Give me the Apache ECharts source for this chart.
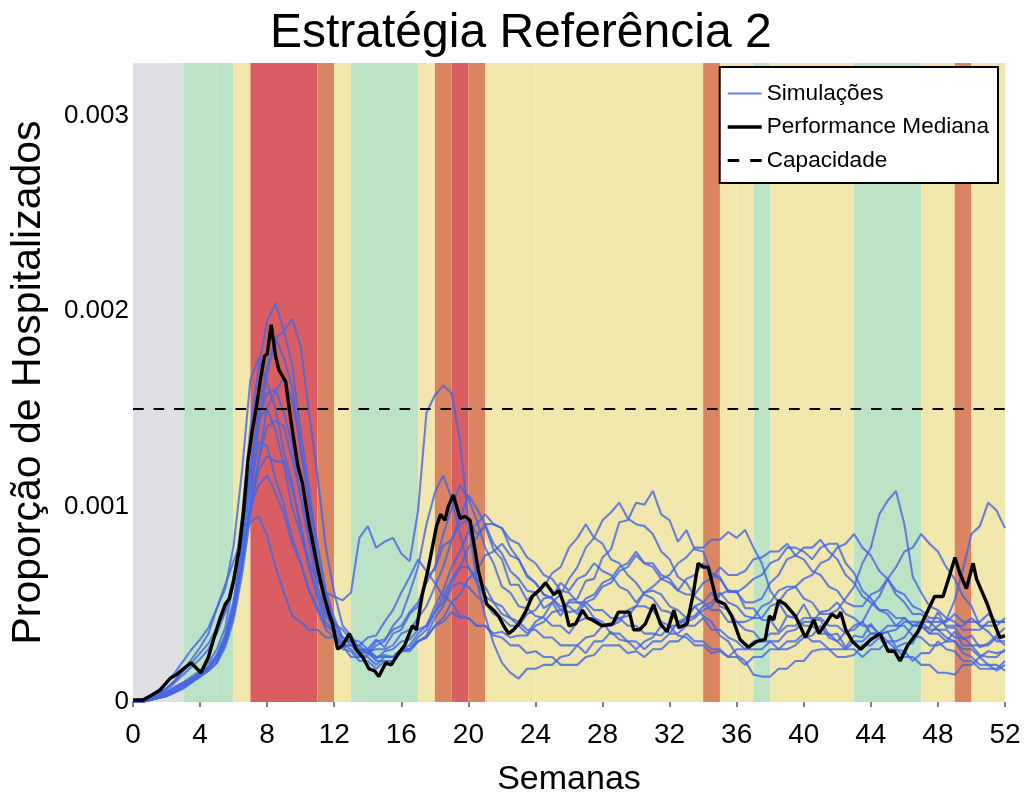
<!DOCTYPE html>
<html>
<head>
<meta charset="utf-8">
<script src="https://cdn.jsdelivr.net/npm/echarts@6/dist/echarts.min.js"></script>
<style>
html,body{margin:0;padding:0;background:#fff;}
#chart{width:1030px;height:802px;}
</style>
</head>
<body>
<div id="chart"></div>
<script>
// Values in units of 1e-5 (proportion of hospitalized)
const titleText = 'Estratégia Referência 2';
const xTickLabels = ['0','4','8','12','16','20','24','28','32','36','40','44','48','52'];
const yTickLabels = ['0','0.001','0.002','0.003'];
const capacity = 150;
const simStep = 0.5; // weeks between simulation samples

// policy bands: [startWeek, endWeek, level]
const bands = [
  [0,3,'none'],[3,5,'green'],[5,6,'green'],[6,7,'yellow'],[7,11,'red'],[11,12,'orange'],
  [12,13,'yellow'],[13,17,'green'],[17,18,'yellow'],[18,19,'orange'],[19,20,'red'],[20,21,'orange'],
  [21,24,'yellow'],[24,30,'yellow'],[30,34,'yellow'],[34,35,'orange'],[35,36,'yellow'],[36,37,'yellow'],
  [37,38,'green'],[38,42,'yellow'],[42,43,'yellow'],[43,47,'green'],[47,49,'yellow'],[49,50,'orange'],[50,52,'yellow']
];

const sim1 = [0,0,1,3,5,8,10,13,16,20, 27,38,62,95,140,172,195,204,190,172, 138,110,74,56,40,37,32,31,27,32,
  28,35,37,45,49,64,68,80,83,91, 93,86,90,78,73,60,60,52,56,48, 51,44,52,53,62,63,74,78,92,93,
  102,101,108,96,93,82,88,78,77,66, 64,56,57,48,48,42,42,36,44,43, 50,42,42,34,35,28,34,33,40,34,
  36,28,30,30,38,38,46,38,38,32, 34,28,30,34,38];
const sim2 = [0,0,1,2,4,7,9,12,14,17, 22,30,45,70,105,140,168,186,190,196, 182,148,116,79,56,39,34,27,26,21,
  21,21,26,26,31,34,43,49,59,61, 59,54,51,45,43,39,39,35,41,44, 51,55,63,69,79,84,93,97,102,94,
  91,90,86,77,73,64,61,54,51,47, 47,41,41,37,36,31,31,27,27,29, 33,34,39,33,31,27,27,23,27,27,
  31,27,26,21,25,25,31,27,26,21, 21,17,17,17,21];
const sim3 = [0,1,2,4,7,11,16,22,28,35, 48,58,80,118,165,176,163,150,128,112, 88,72,62,56,54,52,56,84,90,79,
  82,84,76,72,98,148,157,162,158,134, 92,62,44,30,20,15,12,17,17,19, 19,23,24,29,25,31,31,36,32,31,
  27,31,33,39,35,41,43,49,44,41, 34,31,24,21,14,13,13,17,17,21, 21,26,27,27,23,23,24,29,29,33,
  27,27,23,23,19,19,15,15,14,19, 19,23,19,19,16];
const sim4 = [0,0,1,2,3,5,8,11,14,18, 24,34,52,80,115,150,172,186,176,161, 128,101,68,49,34,29,23,23,24,29,
  31,39,44,56,69,91,107,116,104,86, 69,61,54,51,45,43,39,45,47,53, 54,61,57,63,65,71,67,65,59,57,
  51,56,57,55,49,47,43,49,51,56, 49,47,41,41,43,49,51,57,59,59, 53,51,45,45,47,53,59,71,79,96,
  103,108,91,64,56,49,47,43,41,37, 37,37,41,41,41];
const sim5 = [0,0,1,3,6,10,14,18,22,27, 35,46,64,88,120,146,158,160,148,131, 104,82,59,46,37,33,29,29,25,31,
  32,37,39,46,51,61,69,86,99,111, 104,93,79,71,59,56,49,48,44,43, 39,39,35,41,43,43,39,39,41,47,
  49,56,59,63,65,71,74,79,79,83, 83,87,84,88,79,71,57,51,44,43, 39,39,35,35,31,36,37,41,35,35,
  31,31,33,39,41,41,37,37,33,33, 29,29,29,33,29];
const sim6 = [0,1,2,4,7,11,16,20,25,30, 38,46,60,88,120,145,150,139,121,99, 86,69,56,44,39,31,31,26,26,27,
  27,29,35,37,43,49,59,69,83,94, 106,99,91,81,76,67,63,57,56,59, 66,69,79,84,91,84,81,73,71,65,
  61,55,53,47,46,41,41,43,47,49, 55,57,56,59,63,65,71,73,79,79, 77,73,79,81,81,71,66,57,53,47,
  45,39,39,34,33,29,29,31,36,29, 29,24,23,23,27];
const sim7 = [0,0,1,2,4,6,8,11,14,17, 22,32,50,80,110,133,131,114,101,84, 71,57,49,39,36,29,27,23,23,19,
  23,23,27,27,31,33,39,41,46,43, 43,39,39,35,36,33,34,34,39,41, 46,47,51,51,49,43,41,35,35,31,
  31,27,31,31,35,35,39,39,43,37, 37,33,31,27,27,27,31,31,36,37, 41,41,46,47,51,45,43,39,39,35,
  36,37,41,41,41,37,37,33,31,25, 23,19,19,16,19];
const sim8 = [0,0,1,2,3,5,7,10,13,16, 20,30,45,70,100,119,126,123,123,109, 91,69,53,41,36,29,29,25,25,22,
  26,27,31,32,37,39,46,51,61,69, 79,84,91,91,89,83,81,74,71,65, 63,57,56,51,51,47,47,43,43,39,
  39,35,35,34,39,39,43,44,49,51, 56,51,49,44,43,43,49,51,57,59, 63,65,71,73,79,81,86,79,75,67,
  63,55,51,45,45,41,41,41,45,41, 41,41,45,41,41];
const sim9 = [0,1,3,6,10,15,21,27,32,38, 48,60,72,84,92,95,85,69,56,44, 41,37,37,33,33,29,29,29,33,34,
  41,47,56,64,73,67,61,54,51,44, 43,39,39,34,33,29,29,25,26,23, 23,19,19,19,23,24,29,29,29,25,
  26,23,27,27,31,31,35,31,31,27, 27,23,23,19,23,23,27,27,31,31, 35,31,31,27,27,27,31,31,35,35,
  39,39,43,39,39,35,39,42,52,68, 86,90,102,98,89];
const sim10 = [0,0,1,2,4,6,9,12,15,18, 23,33,48,72,100,124,141,144,141,124, 106,84,66,49,41,33,31,27,27,23,
  23,23,27,29,35,39,49,57,69,77, 87,91,96,91,89,79,73,64,61,55, 53,47,46,47,53,55,61,63,69,71,
  77,71,69,63,61,57,63,65,71,65, 63,57,56,51,51,53,61,65,73,75, 79,79,83,77,73,65,61,54,51,47,
  47,43,43,39,39,35,35,31,31,27, 27,23,26,25,26];
const sim11 = [0,0,1,2,3,5,7,10,13,16, 20,28,42,65,95,124,151,159,166,154, 131,104,81,57,43,33,31,26,26,23,
  24,23,27,27,31,33,39,43,51,55, 63,67,75,77,81,75,73,65,61,55, 53,49,49,45,51,53,59,61,67,69,
  75,71,71,65,63,57,55,55,61,63, 69,65,65,67,73,74,77,77,81,75, 73,67,65,59,57,51,49,49,55,57,
  63,57,55,49,47,43,43,39,39,39, 43,39,39,39,43];
const sim12 = [0,1,2,3,5,7,10,12,15,18, 24,34,50,75,100,111,116,107,96,81, 71,57,47,37,33,27,26,21,21,17,
  21,21,26,27,33,37,46,54,63,69, 69,63,59,51,49,43,41,37,37,33, 33,29,29,29,33,34,39,39,43,44,
  49,49,47,41,39,34,33,29,29,25, 26,23,27,27,31,31,35,35,39,39, 43,43,43,39,39,35,39,41,49,54,
  63,69,77,79,86,81,77,69,63,54, 49,39,36,31,31];
const simulations = [sim1,sim2,sim3,sim4,sim5,sim6,sim7,sim8,sim9,sim10,sim11,sim12];

// median performance: [week, value]
const median = [[0,1],[0.6,1],[1.2,4],[1.6,6],[2.2,12],[2.6,14],[3.0,17],[3.46,20],[3.7,18],[4.05,15],[4.5,23],[4.8,32],
  [5.16,42],[5.5,50],[5.75,53],[6.0,62],[6.35,79],[6.6,98],[6.85,123],[7.1,138],[7.34,150],[7.6,165],[7.84,177],[8.0,178],
  [8.24,193],[8.5,177],[8.7,170],[9.1,164],[9.4,145],[9.83,121],[10.1,112],[10.5,91],[10.8,78],[11.1,65],[11.4,54],[11.7,45],
  [11.9,40],[12.2,27],[12.5,29],[12.9,35],[13.3,27],[13.7,23],[14.07,17],[14.4,16],[14.66,13],[15.07,20],[15.4,19],[15.85,25],
  [16.2,29],[16.66,39],[16.9,37],[17.25,55],[17.6,68],[17.85,79],[18.1,90],[18.34,96],[18.6,93],[18.8,100],[19.1,106],[19.3,100],
  [19.5,94],[19.8,95],[20.1,93],[20.35,80],[20.6,67],[21.1,50],[21.5,47],[21.8,44],[22.1,39],[22.4,35],[22.7,37],[23.0,40],
  [23.4,46],[23.8,54],[24.2,57],[24.6,61],[25.1,55],[25.4,57],[25.7,50],[26.0,39],[26.4,40],[26.8,47],[27.1,43],[27.4,42],
  [27.97,39],[28.6,40],[28.95,46],[29.6,46],[29.85,37],[30.2,37],[30.55,40],[31.04,50],[31.45,40],[31.85,36],[32.25,47],[32.55,38],
  [33.04,40],[33.4,55],[33.7,71],[34.0,69],[34.3,69],[34.8,52],[35.3,50],[35.7,44],[36.2,32],[36.7,28],[37.2,31],[37.7,32],
  [37.95,44],[38.2,42],[38.5,52],[38.9,50],[39.5,44],[40.1,33],[40.6,42],[40.9,35],[41.3,40],[41.67,45],[42.0,43],[42.2,46],
  [42.5,37],[42.9,31],[43.4,27],[44.0,32],[44.55,35],[45.03,26],[45.4,26],[45.74,21],[46.2,29],[46.8,36],[47.3,45],[47.8,54],
  [48.3,54],[48.6,62],[49.02,74],[49.3,66],[49.7,58],[50.1,71],[50.3,63],[50.6,57],[50.95,50],[51.4,39],[51.7,33],[52,34]];

const bandColors = {none:'#dfe0e4', green:'#bde3c7', yellow:'#f1e7ad', red:'#da5e61', orange:'#db8462'};
const FONT = 'Liberation Sans, Arial, Helvetica, sans-serif';
const SIM_COLOR = 'rgba(68,102,226,0.8)';

const chart = echarts.init(document.getElementById('chart'), null, {renderer:'canvas'});

const series = [];
series.push({
  type:'line', name:'_bands', data:[], silent:true,
  markArea:{
    silent:true,
    data: bands.map(b => [{xAxis:b[0], itemStyle:{color:bandColors[b[2]], opacity:1}}, {xAxis:b[1]}])
  }
});
simulations.forEach((s) => {
  series.push({
    type:'line', name:'Simulações', symbol:'none', smooth:false,
    data: s.map((v,i) => [i*simStep, v]),
    lineStyle:{color:SIM_COLOR, width:2.1},
    itemStyle:{color:SIM_COLOR},
    z:3
  });
});
series.push({
  type:'line', name:'Performance Mediana', symbol:'none',
  data: median,
  lineStyle:{color:'#000', width:3.4},
  itemStyle:{color:'#000'},
  z:5
});
series.push({
  type:'line', name:'Capacidade', symbol:'none',
  data: [[0,capacity],[52,capacity]],
  lineStyle:{color:'#000', width:2, type:[10.7,9.8]},
  itemStyle:{color:'#000'},
  z:6
});

chart.setOption({
  animation:false,
  backgroundColor:'#fff',
  title:{
    text:titleText, left:265, top:5,
    textStyle:{fontFamily:FONT, fontSize:48, fontWeight:'normal', color:'#000'}
  },
  grid:{left:132, right:25, top:63, bottom:96, containLabel:false},
  legend:{
    data:[
      {name:'Simulações', icon:'path://M0,0H34V2H0Z'},
      {name:'Performance Mediana', icon:'path://M0,0H34V3.6H0Z'},
      {name:'Capacidade', icon:'path://M0,0H10.5V2.6H0Z M20.5,0H31V2.6H20.5Z'}
    ],
    orient:'vertical', right:32, top:67,
    backgroundColor:'#fff', borderColor:'#000', borderWidth:2, borderRadius:0,
    padding:[15,9,11,8], itemGap:10.5, itemWidth:34, itemHeight:12,
    textStyle:{fontFamily:FONT, fontSize:22.6, color:'#000'}
  },
  xAxis:{
    type:'value', min:0, max:52, interval:4,
    name:'Semanas', nameLocation:'middle', nameGap:61,
    nameTextStyle:{fontFamily:FONT, fontSize:34, color:'#000'},
    axisLine:{show:false},
    axisTick:{show:true, length:5, lineStyle:{color:'#555', width:1.5}},
    axisLabel:{fontFamily:FONT, fontSize:28, color:'#000', margin:19,
      formatter:(v)=>{ const k = xTickLabels.indexOf(String(v)); return k>=0 ? xTickLabels[k] : ''; }},
    splitLine:{show:false}
  },
  yAxis:{
    type:'value', min:0, max:327, interval:100,
    name:'Proporção de Hospitalizados', nameLocation:'middle', nameGap:84,
    nameTextStyle:{fontFamily:FONT, fontSize:41, color:'#000'},
    axisLine:{show:true, lineStyle:{color:'#e0e0e0', width:1}},
    axisTick:{show:false},
    axisLabel:{fontFamily:FONT, fontSize:26, color:'#000', margin:4,
      formatter:(v)=>{ const k = v/100; return Number.isInteger(k) && yTickLabels[k] ? yTickLabels[k] : ''; }},
    splitLine:{show:false}
  },
  series: series
});
</script>
</body>
</html>
